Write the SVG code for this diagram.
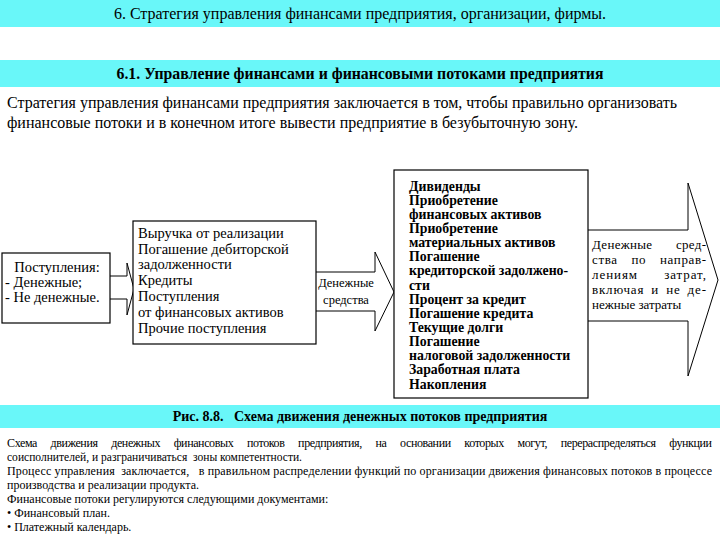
<svg xmlns="http://www.w3.org/2000/svg" width="720" height="540" viewBox="0 0 720 540">
<style>
.band{fill:#69f7f9}
.t{font-family:"Liberation Serif","DejaVu Serif",serif;fill:#000}
.box{fill:#fff;stroke:#000;stroke-width:1.2}
.arr{fill:#fff;stroke:#000;stroke-width:1}
.b2{font-size:14.5px}
.b3{font-size:13.8px;font-weight:bold}
.a3{font-size:13px}
.sm{font-size:12px}
</style>
<rect width="720" height="540" fill="#fff"/>
<g id="header1">
<rect class="band" x="0" y="0" width="720" height="27"/>
<text class="t" x="360" y="19" font-size="16" text-anchor="middle">6. Стратегия управления финансами предприятия, организации, фирмы.</text>
</g>
<g id="header2">
<rect class="band" x="0" y="60" width="720" height="27"/>
<text class="t" x="360" y="79" font-size="15.8" font-weight="bold" text-anchor="middle">6.1. Управление финансами и финансовыми потоками предприятия</text>
</g>
<g id="intro">
<text class="t" x="7" y="108" font-size="16">Стратегия управления финансами предприятия заключается в том, чтобы правильно организовать</text>
<text class="t" x="7" y="128" font-size="16">финансовые потоки и в конечном итоге вывести предприятие в безубыточную зону.</text>
</g>
<g id="connectors">
<path class="arr" d="M110,276 H127 V263 L134,289 L127,315 V299 H110"/>
<path class="arr" d="M316,272 H375 V252 L394,292 L375,331 V311 H316"/>
<text class="t" x="346" y="287" font-size="12.5" text-anchor="middle">Денежные</text>
<text class="t" x="346" y="304" font-size="12.5" text-anchor="middle">средства</text>
<path class="arr" d="M588,230 H688 V183 L718,280 L688,376 V321 H588"/>
<text class="t a3" x="592" y="249" textLength="114" lengthAdjust="spacing" word-spacing="20">Денежные сред-</text>
<text class="t a3" x="592" y="264" textLength="114" lengthAdjust="spacing" word-spacing="10">ства по направ-</text>
<text class="t a3" x="592" y="279" textLength="114" lengthAdjust="spacing" word-spacing="22">лениям затрат,</text>
<text class="t a3" x="592" y="294" textLength="114" lengthAdjust="spacing" word-spacing="3">включая и не де-</text>
<text class="t a3" x="592" y="309">нежные затраты</text>
</g>
<g id="inflows">
<rect class="box" x="2" y="253" width="108" height="70"/>
<text class="t" x="57" y="272" font-size="14.5" text-anchor="middle">Поступления:</text>
<text class="t" x="5" y="287" font-size="14.5">- Денежные;</text>
<text class="t" x="5" y="302" font-size="14.5">- Не денежные.</text>
</g>
<g id="sources">
<rect class="box" x="133" y="221" width="183" height="123"/>
<text class="t b2" x="138" y="238">Выручка от реализации</text>
<text class="t b2" x="138" y="254">Погашение дебиторской</text>
<text class="t b2" x="138" y="269">задолженности</text>
<text class="t b2" x="138" y="285">Кредиты</text>
<text class="t b2" x="138" y="301">Поступления</text>
<text class="t b2" x="138" y="317">от финансовых активов</text>
<text class="t b2" x="138" y="333">Прочие поступления</text>
</g>
<g id="uses">
<rect class="box" x="394" y="170" width="194" height="228"/>
<text class="t b3" x="409" y="190.5">Дивиденды</text>
<text class="t b3" x="409" y="204.6">Приобретение</text>
<text class="t b3" x="409" y="218.8">финансовых активов</text>
<text class="t b3" x="409" y="232.9">Приобретение</text>
<text class="t b3" x="409" y="247.1">материальных активов</text>
<text class="t b3" x="409" y="261.2">Погашение</text>
<text class="t b3" x="409" y="275.4">кредиторской задолжено-</text>
<text class="t b3" x="409" y="289.5">сти</text>
<text class="t b3" x="409" y="303.7">Процент за кредит</text>
<text class="t b3" x="409" y="317.8">Погашение кредита</text>
<text class="t b3" x="409" y="332">Текущие долги</text>
<text class="t b3" x="409" y="346.1">Погашение</text>
<text class="t b3" x="409" y="360.3">налоговой задолженности</text>
<text class="t b3" x="409" y="374.4">Заработная плата</text>
<text class="t b3" x="409" y="388.6">Накопления</text>
</g>
<g id="caption">
<rect class="band" x="0" y="405" width="720" height="23"/>
<text class="t" x="360" y="421" font-size="14" font-weight="bold" text-anchor="middle" xml:space="preserve">Рис. 8.8.   Схема движения денежных потоков предприятия</text>
</g>
<g id="description">
<text class="t sm" x="7" y="447" textLength="705" lengthAdjust="spacing" word-spacing="11">Схема движения денежных финансовых потоков предприятия, на основании которых могут, перераспределяться функции</text>
<text class="t sm" x="7" y="461" textLength="295" lengthAdjust="spacingAndGlyphs" xml:space="preserve">соисполнителей, и разграничиваться  зоны компетентности.</text>
<text class="t sm" x="7" y="475" textLength="705" lengthAdjust="spacing" xml:space="preserve">Процесс управления  заключается,   в правильном распределении функций по организации движения финансовых потоков в процессе</text>
<text class="t sm" x="7" y="489">производства и реализации продукта.</text>
<text class="t sm" x="7" y="503">Финансовые потоки регулируются следующими документами:</text>
<text class="t sm" x="7" y="517">• Финансовый план.</text>
<text class="t sm" x="7" y="531">• Платежный календарь.</text>
</g>
</svg>
